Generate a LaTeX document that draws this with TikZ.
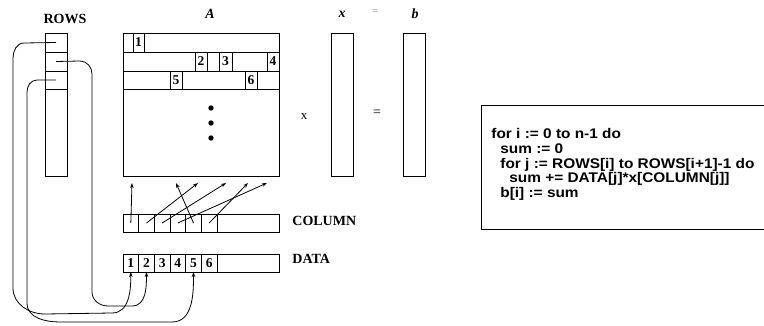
\documentclass[tikz,border=0pt]{standalone}
\usepackage{fontspec}
\setmainfont{Liberation Serif}
\newfontfamily\codefont{Liberation Sans}[FakeStretch=1.1]
\usetikzlibrary{arrows.meta}
\tikzset{
  boxy/.style={draw, inner sep=0pt, outer sep=0pt},
  lab/.style={font=\fontsize{14}{14}\selectfont\bfseries, inner sep=0pt},
  ilab/.style={font=\fontsize{14}{14}\selectfont\bfseries\itshape, inner sep=0pt},
  num/.style={font=\fontsize{13.5}{14}\selectfont\bfseries},
  code/.style={font=\codefont\bfseries\fontsize{14}{14.5}\selectfont, inner sep=0pt, anchor=base west},
  arr/.style={-{Stealth[length=5pt,width=3.5pt]}},
}
\begin{document}
\begin{tikzpicture}[x=1pt,y=1pt,line width=0.8pt]
\useasboundingbox (0,0) rectangle (764,-326);
% labels
\node[lab] (rowslab) at (65,-19) {ROWS};
\node[ilab] (Alab) at (210,-14) {A};
\node[ilab] (xlab) at (342,-14) {x};
\node[font=\fontsize{10}{10}\selectfont, text=gray, inner sep=0pt] (eqlab) at (375,-12) {=};
\node[ilab] (blab) at (415,-14) {b};
\node[font=\fontsize{13}{13}\selectfont, inner sep=0pt] (times) at (304,-117) {x};
\node[font=\fontsize{14}{14}\selectfont, inner sep=0pt] (eq) at (377,-113) {=};
\node[lab, anchor=west] (collab) at (292,-221) {COLUMN};
\node[lab, anchor=west] (datalab) at (292,-259) {DATA};
% ROWS
\node[boxy, minimum width=22pt, minimum height=143pt] (rows) at (56,-104.5) {};
\node[boxy, minimum width=22pt, minimum height=19pt] (r1) at (56,-42.5) {};
\node[boxy, minimum width=22pt, minimum height=19pt] (r2) at (56,-61.5) {};
\node[boxy, minimum width=22pt, minimum height=18pt] (r3) at (56,-80) {};
% A
\node[boxy, minimum width=156pt, minimum height=143pt] (A) at (201,-104.5) {};
\draw (123,-52) -- (279,-52);
\draw (123,-71) -- (279,-71);
\draw (123,-89) -- (279,-89);
\node[boxy, num, minimum width=11pt, minimum height=19pt] (a1) at (138.5,-42.5) {1};
\node[boxy, num, minimum width=12pt, minimum height=19pt] (a2) at (201,-61.5) {2};
\node[boxy, num, minimum width=13pt, minimum height=19pt] (a3) at (225.5,-61.5) {3};
\node[boxy, num, minimum width=12pt, minimum height=19pt] (a4) at (273,-61.5) {4};
\node[boxy, num, minimum width=12pt, minimum height=18pt] (a5) at (176,-80) {5};
\node[boxy, num, minimum width=12pt, minimum height=18pt] (a6) at (251,-80) {6};
\fill (211,-108) circle (2.7);
\fill (211,-123) circle (2.7);
\fill (211,-138) circle (2.7);
% x and b
\node[boxy, minimum width=22pt, minimum height=143pt] (xv) at (342,-104.5) {};
\node[boxy, minimum width=22pt, minimum height=143pt] (bv) at (414,-104.5) {};
% COLUMN and DATA
\foreach \i/\cx in {1/130.83,2/146.5,3/162.17,4/177.83,5/193.5,6/209.17}{
  \node[boxy, minimum width=15.67pt, minimum height=18pt] (c\i) at (\cx,-223) {};
  \node[boxy, num, minimum width=15.67pt, minimum height=18pt] (d\i) at (\cx,-263) {\i};
}
\node[boxy, minimum width=62pt, minimum height=18pt] (crest) at (248,-223) {};
\node[boxy, minimum width=62pt, minimum height=18pt] (drest) at (248,-263) {};
% arrow targets below A
\coordinate (t1) at (132,-183);
\coordinate (t2) at (198,-183);
\coordinate (t3) at (226,-183);
\coordinate (t4) at (267,-183);
\coordinate (t5) at (176,-183);
\coordinate (t6) at (248,-183);
\foreach \i in {1,...,6}{\draw[arr] (c\i.center) -- (t\i);}
% ROWS -> DATA curves
\draw[arr] (r1.center) -- (24,-43) to[out=180,in=90] (13,-58) -- (13,-288)
  to[out=-90,in=180] (45,-314) -- (112,-313) to[out=0,in=-90] (d1.south);
\draw[arr] (r2.center) -- (80,-61) to[out=0,in=90] (92,-74) -- (92,-292)
  to[out=-90,in=180] (108,-306) -- (132,-306) to[out=0,in=-90] (d2.south);
\draw[arr] (r3.center) -- (37,-80) to[out=180,in=90] (27,-92) -- (27,-303)
  to[out=-90,in=180] (60,-322) -- (172,-322) to[out=0,in=-90] (d5.south);
% code box
\draw (770,-105) -- (481,-105) -- (481,-229) -- (770,-229);
\node[code] (l1) at (491,-139) {for i := 0 to n-1 do};
\node[code] (l2) at (500,-154) {sum := 0};
\node[code] (l3) at (500,-168.5) {for j := ROWS[i] to ROWS[i+1]-1 do};
\node[code] (l4) at (509,-183) {sum += DATA[j]*x[COLUMN[j]]};
\node[code] (l5) at (500,-197.5) {b[i] := sum};
\end{tikzpicture}
\end{document}
